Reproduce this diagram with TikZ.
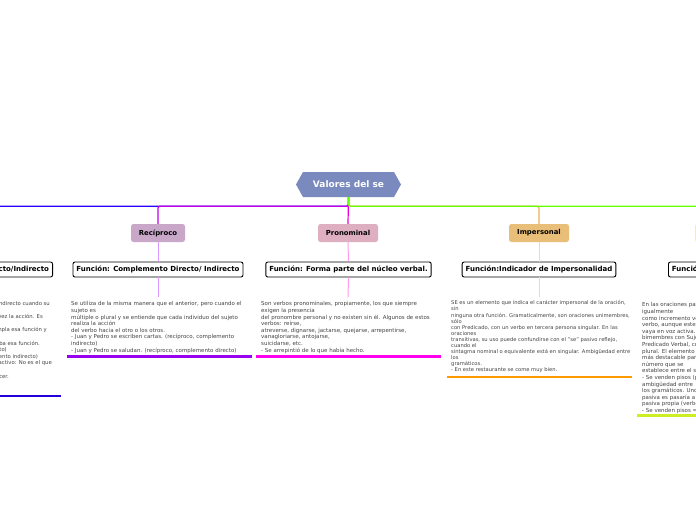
\documentclass[tikz,border=0pt]{standalone}
\usepackage{fontspec}
\setmainfont{DejaVu Sans}
\usetikzlibrary{calc}
\definecolor{titlefill}{HTML}{7A8ABE}
\definecolor{bluebr}{HTML}{2A00FF}
\definecolor{blueul}{HTML}{2200DD}
\definecolor{recipbr}{HTML}{C400E8}
\definecolor{recipfill}{HTML}{C9A7C9}
\definecolor{reciplt}{HTML}{DD99FF}
\definecolor{recipul}{HTML}{9900EE}
\definecolor{pronbr}{HTML}{E800D8}
\definecolor{pronfill}{HTML}{DDAFC0}
\definecolor{pronlt}{HTML}{FF99EE}
\definecolor{pronul}{HTML}{FF00EE}
\definecolor{greenbr}{HTML}{66FF00}
\definecolor{imperbr}{HTML}{F0B050}
\definecolor{imperfill}{HTML}{E8BE78}
\definecolor{imperlt}{HTML}{F8D8A8}
\definecolor{imperul}{HTML}{FF9900}
\definecolor{pasfill}{HTML}{EEEEB8}
\definecolor{pasul}{HTML}{CCEE22}
\definecolor{reflfill}{HTML}{B8B8E8}
\definecolor{txtgray}{HTML}{444444}
\tikzset{
  cat/.style={rounded corners=2.5pt, minimum width=54pt, minimum height=18pt, inner sep=0pt,
    font=\fontsize{6.9}{8}\selectfont\bfseries},
  fun/.style={draw=black, line width=0.9pt, rounded corners=2pt, fill=white, minimum height=15pt,
    inner xsep=3.5pt, inner ysep=0pt, font=\fontsize{7}{8}\selectfont\bfseries},
  body/.style={inner sep=0pt, align=left, text=txtgray, font=\fontsize{5.5}{6.6}\selectfont},
  bodyline/.style={inner sep=0pt, text=txtgray, font=\fontsize{5.3}{6.6}\selectfont},
  br/.style={line width=1.2pt, rounded corners=2pt},
  lt/.style={line width=1pt},
  ul/.style={line width=2.6pt}
}
\begin{document}
\begin{tikzpicture}[x=1pt,y=-1pt]
\useasboundingbox[fill=white] (0,0) rectangle (696,520);
\clip (0,0) rectangle (696,520);
% root
\fill[titlefill] (296,184.5) -- (303,172) -- (394,172) -- (401,184.5) -- (394,197) -- (303,197) -- cycle;
\node[text=white, font=\fontsize{9}{10}\selectfont\bfseries, inner sep=0pt, minimum height=25pt] (root) at (348.5,184.5) {Valores del se};
% category nodes
\node[cat, fill=reflfill] (refl) at (-40,233) {Reflexivo};
\node[cat, fill=recipfill] (recip) at (158,233) {Recíproco};
\node[cat, fill=pronfill, minimum width=60pt] (pron) at (348,233) {Pronominal};
\node[cat, fill=imperfill, minimum width=60pt] (imper) at (539,233) {Impersonal};
\node[cat, fill=pasfill, minimum width=70pt] (pas) at (730,233) {Pasiva refleja};
% branches
\draw[br, bluebr] (root.south) -- ++(0,9) -| (refl.north);
\draw[br, recipbr] (root.south) -- ++(0,9) -| (recip.north);
\draw[br, pronbr] (root.south) -- (pron.north);
\draw[br, imperbr] (root.south) -- ++(0,9) -| (imper.north);
\draw[br, greenbr] (root.south) -- ++(0,9) -| (pas.north);
% function boxes
\node[fun, anchor=east] (frefl) at (53,269.5) {Función: Complemento Directo/Indirecto};
\node[fun] (frecip) at (158,269.5) {Función: Complemento Directo/ Indirecto};
\node[fun] (fpron) at (348.5,269.5) {Función: Forma parte del núcleo verbal.};
\node[fun] (fimper) at (539,269.5) {Función:Indicador de Impersonalidad};
\node[fun, anchor=west] (fpas) at (668,269.5) {Función: Indicador de Pasiva Refleja};
% links category -> function
\draw[lt, reciplt] (recip.south) -- (frecip.north);
\draw[lt, pronlt] (pron.south) -- (fpron.north);
\draw[lt, imperlt] (imper.south) -- (fimper.north);
% text anchors
\coordinate (trecipc) at (158,297);
\coordinate (tpronc) at (348,297);
\coordinate (timperc) at (539,297);
\draw[lt, reciplt] (frecip.south) -- (trecipc);
\draw[lt, pronlt] (fpron.south) -- (tpronc);
\draw[lt, imperlt] (fimper.south) -- (timperc);
% Reflexivo text (only line ends visible)
\node[bodyline, anchor=east] (rl1) at (50,304) {El pronombre funciona como complemento indirecto cuando su};
\node[bodyline, anchor=east] (rl3) at (43,317.2) {sujeto realiza y recibe a la vez la acción. Es};
\node[bodyline, anchor=east] (rl5) at (47,330.4) {equivale a sí mismo si cumpla esa función y};
\node[bodyline, anchor=east] (rl7) at (40,343.6) {con la que se comprueba esa función.};
\node[bodyline, anchor=east] (rl8) at (7,350.2) {- Juan se lava. (reflexivo, complemento directo)};
\node[bodyline, anchor=east] (rl9) at (38,356.8) {- Juan se lava las manos. (reflexivo, complemento indirecto)};
\node[bodyline, anchor=east] (rl10) at (52,363.4) {- Dativo ético o de interés. Sujeto no activo: No es el que};
\node[bodyline, anchor=east] (rl12) at (9,376.6) {realiza la acción de hacer.};
\coordinate (ulrefl1) at (-130,396);
\coordinate (ulrefl2) at (61,396);
\draw[ul, blueul] (ulrefl1) -- (ulrefl2);
% Reciproco text
\node[body, anchor=north west] (trecip) at (71,301.5) {Se utiliza de la misma manera que el anterior, pero cuando el\\
sujeto es\\
múltiple o plural y se entiende que cada individuo del sujeto\\
realiza la acción\\
del verbo hacia el otro o los otros.\\
- Juan y Pedro se escriben cartas. (recíproco, complemento\\
indirecto)\\
- Juan y Pedro se saludan. (recíproco, complemento directo)};
\coordinate (ulrecip1) at (67,356.5);
\coordinate (ulrecip2) at (252,356.5);
\draw[ul, recipul] (ulrecip1) -- (ulrecip2);
% Pronominal text
\node[body, anchor=north west] (tpron) at (261,301.5) {Son verbos pronominales, propiamente, los que siempre\\
exigen la presencia\\
del pronombre personal y no existen sin él. Algunos de estos\\
verbos: reírse,\\
atreverse, dignarse, jactarse, quejarse, arrepentirse,\\
vanagloriarse, antojarse,\\
suicidarse, etc.\\
- Se arrepintió de lo que había hecho.};
\coordinate (ulpron1) at (256,356.5);
\coordinate (ulpron2) at (441,356.5);
\draw[ul, pronul] (ulpron1) -- (ulpron2);
% Impersonal text
\node[body, anchor=north west, font=\fontsize{5.2}{6.1}\selectfont] (timper) at (451,300.5) {SE es un elemento que indica el carácter impersonal de la oración,\\
sin\\
ninguna otra función. Gramaticalmente, son oraciones unimembres,\\
sólo\\
con Predicado, con un verbo en tercera persona singular. En las\\
oraciones\\
transitivas, su uso puede confundirse con el "se" pasivo reflejo,\\
cuando el\\
sintagma nominal o equivalente está en singular. Ambigüedad entre\\
los\\
gramáticos.\\
- En este restaurante se come muy bien.};
\coordinate (ulimper1) at (447,377);
\coordinate (ulimper2) at (632,377);
\draw[ul, imperul] (ulimper1) -- (ulimper2);
% Pasiva refleja text (clipped)
\node[body, anchor=north west] (tpas) at (642,302.5) {En las oraciones pasivas reflejas, el se funciona\\
igualmente\\
como incremento verbal y no desempeña función en el\\
verbo, aunque este tiene significado pasivo aunque\\
vaya en voz activa. Son oraciones\\
bimembres con Sujeto (generalmente de cosa) y\\
Predicado Verbal, con el verbo en singular o\\
plural. El elemento\\
más destacable para reconocerlas es la concordancia de\\
número que se\\
establece entre el sujeto y el verbo.\\
- Se venden pisos (pasiva refleja). Hay\\
ambigüedad entre\\
los gramáticos. Unos dicen que la\\
pasiva es pasaría a ser una\\
pasiva propia (verbo ser + participio)\\
- Se venden pisos = Son vendidos pisos.};
\coordinate (ulpas1) at (637,415.5);
\coordinate (ulpas2) at (822,415.5);
\draw[ul, pasul] (ulpas1) -- (ulpas2);
\end{tikzpicture}
\end{document}
